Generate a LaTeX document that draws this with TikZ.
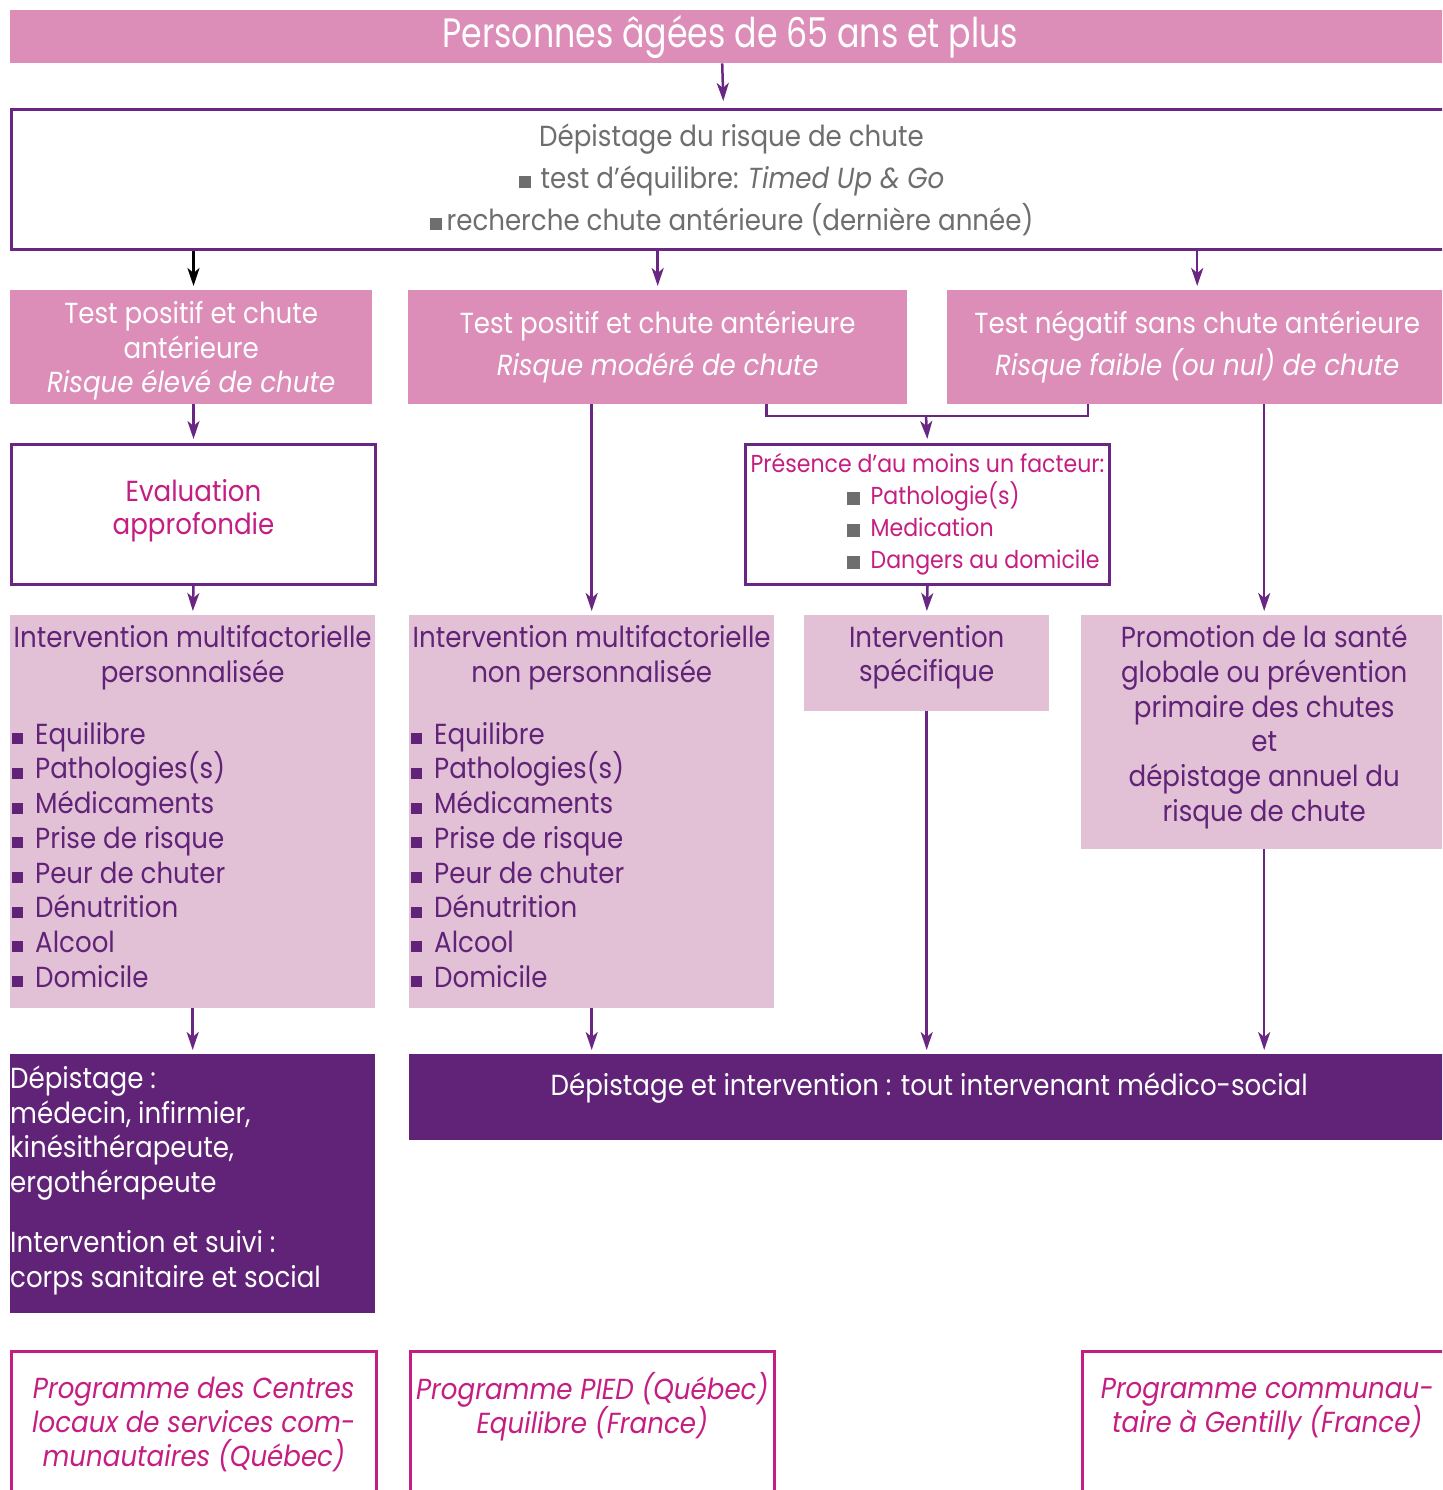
\documentclass[tikz,border=0pt]{standalone}
\usepackage{fontspec}
\setmainfont{Poppins}[FakeStretch=0.9]
\newfontfamily\titrefont{Poppins}[FakeStretch=0.81]
\usetikzlibrary{positioning,arrows.meta}

\definecolor{rosefonce}{RGB}{220,142,185}
\definecolor{roseclair}{RGB}{226,192,214}
\definecolor{violetfonce}{RGB}{96,35,120}
\definecolor{traitviolet}{RGB}{105,38,130}
\definecolor{magentatexte}{RGB}{196,30,130}
\definecolor{grisexte}{RGB}{110,110,110}

\setlength{\lineskiplimit}{-30pt}
\newcommand{\puce}{\rule{11pt}{11pt}\hspace{12pt}}
\newcommand{\pucegrise}{{\color{grisexte}\rule{13pt}{13pt}}\hspace{11pt}}

\begin{document}
\begin{tikzpicture}[x=1pt, y=-1pt,
    >={Stealth[length=18pt,width=12pt,inset=5pt]},
    pinkbox/.style={rectangle, fill=rosefonce, text=white, inner sep=0pt, align=center,
      font=\fontsize{29pt}{34.7pt}\selectfont},
    pinktext/.style={inner sep=0pt, text=white, align=center,
      font=\fontsize{29pt}{34.7pt}\selectfont},
    framebox/.style={rectangle, draw=traitviolet, line width=3pt, inner sep=0pt, align=center,
      font=\fontsize{29pt}{33pt}\selectfont},
    lightbox/.style={rectangle, fill=roseclair, text=violetfonce, inner sep=0pt, align=center,
      font=\fontsize{29pt}{34.7pt}\selectfont},
    lighttext/.style={inner sep=0pt, text=violetfonce, align=center,
      font=\fontsize{29pt}{34.7pt}\selectfont},
    darkbox/.style={rectangle, fill=violetfonce, inner sep=0pt},
    darktext/.style={inner sep=0pt, text=white, align=left,
      font=\fontsize{29pt}{34.5pt}\selectfont},
    progbox/.style={rectangle, draw=magentatexte, line width=2.5pt, inner sep=0pt},
    progtext/.style={inner sep=0pt, text=magentatexte, align=center,
      font=\fontsize{29pt}{34pt}\selectfont\itshape},
    fleche/.style={->, draw=traitviolet, line width=2.5pt, shorten >=4pt}]

  \useasboundingbox (0,0) rectangle (1442,1490);
  \clip (0,0) rectangle (1442,1490);
  \fill[white] (0,0) rectangle (1442,1490);

  % Population
  \node[pinkbox, anchor=north west, minimum width=1440pt, minimum height=53pt,
    font=\titrefont\fontsize{41pt}{41pt}\selectfont] (title) at (10,10) {Personnes âgées de 65 ans et plus};

  % Depistage
  \node[framebox, anchor=north west, minimum width=1440pt, minimum height=140pt, text=grisexte,
    font=\fontsize{29pt}{42pt}\selectfont] (screen) at (10,108)
    {Dépistage du risque de chute\\
     \rule{12pt}{12pt}\hspace{10pt}test d’équilibre: \textit{Timed Up \& Go}\\
     \rule{12pt}{12pt}\hspace{5pt}recherche chute antérieure (dernière année)};

  % Niveaux de risque
  \node[pinkbox, anchor=north west, minimum width=362pt, minimum height=114pt] (riskhigh) at (10,290) {};
  \node[pinktext, below=11pt of riskhigh.north] (riskhightext)
    {Test positif et chute\\antérieure\\\textit{Risque élevé de chute}};
  \node[pinkbox, anchor=north west, minimum width=499pt, minimum height=114pt,
    font=\fontsize{29pt}{42pt}\selectfont] (riskmod) at (408,290)
    {Test positif et chute antérieure\\\textit{Risque modéré de chute}};
  \node[pinkbox, anchor=north west, minimum width=500pt, minimum height=114pt,
    font=\fontsize{29pt}{42pt}\selectfont] (risklow) at (947,290)
    {Test négatif sans chute antérieure\\\textit{Risque faible (ou nul) de chute}};

  % Evaluation / facteurs
  \node[framebox, anchor=north west, minimum width=364pt, minimum height=140pt] (evalbox) at (10,443) {};
  \node[inner sep=0pt, align=center, text=magentatexte, font=\fontsize{29pt}{33pt}\selectfont,
    below=36pt of evalbox.north] (evaltext) {Evaluation\\approfondie};
  \node[framebox, anchor=north west, minimum width=364pt, minimum height=140pt, text=magentatexte, align=left,
    font=\fontsize{24.5pt}{32pt}\selectfont] (factors) at (744,443)
    {Présence d’au moins un facteur:\\
     \hspace*{96pt}\pucegrise Pathologie(s)\\
     \hspace*{96pt}\pucegrise Medication\\
     \hspace*{96pt}\pucegrise Dangers au domicile};

  % Interventions
  \node[lightbox, anchor=north west, minimum width=365pt, minimum height=393pt] (multiperso) at (10,615) {};
  \node[lighttext, below=10pt of multiperso.north] (persotitle)
    {Intervention multifactorielle\\personnalisée};
  \node[lighttext, align=left, below right=107pt and 2pt of multiperso.north west] (persolist)
    {\puce Equilibre\\\puce Pathologies(s)\\\puce Médicaments\\\puce Prise de risque\\
     \puce Peur de chuter\\\puce Dénutrition\\\puce Alcool\\\puce Domicile};

  \node[lightbox, anchor=north west, minimum width=365pt, minimum height=393pt] (multinon) at (409,615) {};
  \node[lighttext, below=10pt of multinon.north] (nontitle)
    {Intervention multifactorielle\\non personnalisée};
  \node[lighttext, align=left, below right=107pt and 2pt of multinon.north west] (nonlist)
    {\puce Equilibre\\\puce Pathologies(s)\\\puce Médicaments\\\puce Prise de risque\\
     \puce Peur de chuter\\\puce Dénutrition\\\puce Alcool\\\puce Domicile};

  \node[lightbox, anchor=north west, minimum width=245pt, minimum height=96pt] (specific) at (804,615) {};
  \node[lighttext, below=10pt of specific.north] (specifictext) {Intervention\\spécifique};
  \node[lightbox, anchor=north west, minimum width=366pt, minimum height=234pt] (promo) at (1081,615) {};
  \node[lighttext, below=10pt of promo.north] (promotext)
    {Promotion de la santé\\globale ou prévention\\primaire des chutes\\et\\dépistage annuel du\\risque de chute};

  % Intervenants
  \node[darkbox, anchor=north west, minimum width=365pt, minimum height=259pt] (actorsA) at (10,1054) {};
  \node[darktext, below right=12pt and 0pt of actorsA.north west] (actorsAtext)
    {Dépistage :\\médecin, infirmier,\\kinésithérapeute,\\ergothérapeute\\[26pt]
     Intervention et suivi :\\corps sanitaire et social};
  \node[darkbox, anchor=north west, minimum width=1040pt, minimum height=86pt] (actorsB) at (409,1054) {};
  \node[darktext, below=19pt of actorsB.north] (actorsBtext)
    {Dépistage et intervention : tout intervenant médico-social};

  % Programmes
  \node[progbox, anchor=north west, minimum width=365pt, minimum height=160pt] (progA) at (10,1350) {};
  \node[progtext, below=27pt of progA.north] (progAtext)
    {Programme des Centres\\locaux de services com-\\munautaires (Québec)};
  \node[progbox, anchor=north west, minimum width=364pt, minimum height=160pt] (progB) at (409,1350) {};
  \node[progtext, below=22pt of progB.north] (progBtext)
    {Programme PIED (Québec)\\Equilibre (France)};
  \node[progbox, anchor=north west, minimum width=370pt, minimum height=160pt] (progC) at (1081,1350) {};
  \node[progtext, below=28pt of progC.north] (progCtext)
    {Programme communau-\\taire à Gentilly (France)};

  % Connecteurs
  \coordinate (junction) at (926,416);

  \draw[fleche, shorten >=7pt] ([xshift=-8pt]title.south) -- ([xshift=-8pt]screen.north);
  \draw[fleche, draw=black] (screen.south -| evalbox.north) -- (evalbox.north |- riskhigh.north);
  \draw[fleche] (screen.south -| riskmod.north) -- (riskmod.north);
  \draw[fleche] (screen.south -| risklow.north) -- (risklow.north);

  \draw[fleche] (evalbox.north |- riskhigh.south) -- (evalbox.north);
  \draw[fleche] (evalbox.south) -- (multiperso.north);
  \draw[fleche] (riskmod.south -| multinon.north) -- (multinon.north);

  \draw[traitviolet, line width=2.5pt] ([xshift=109pt]riskmod.south) |- (junction) -| ([xshift=-109pt]risklow.south);
  \draw[fleche] (junction) -- (factors.north);
  \draw[fleche] (factors.south) -- (specific.north);
  \draw[fleche] (risklow.south -| promo.north) -- (promo.north);

  \draw[fleche] (multiperso.south) -- (actorsA.north);
  \draw[fleche] (multinon.south) -- (multinon.south |- actorsB.north);
  \draw[fleche] (specific.south) -- (specific.south |- actorsB.north);
  \draw[fleche] (promo.south) -- (promo.south |- actorsB.north);

\end{tikzpicture}
\end{document}
